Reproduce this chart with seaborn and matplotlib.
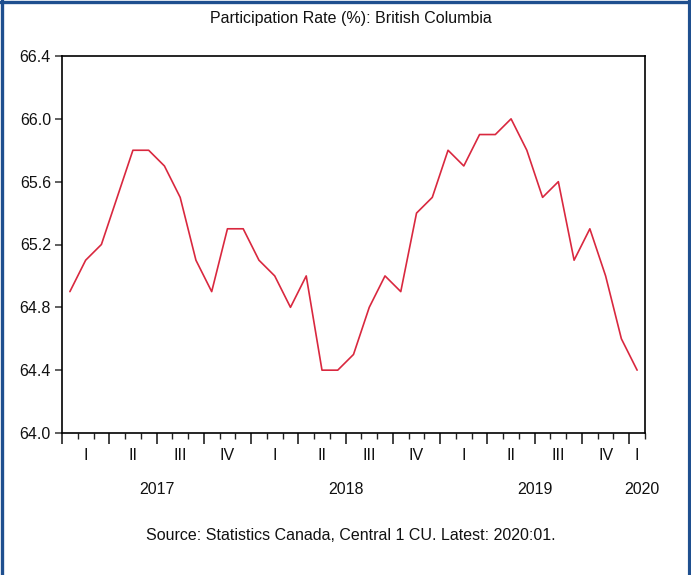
import matplotlib
matplotlib.use("Agg")
import matplotlib.pyplot as plt
import matplotlib.transforms as mtransforms
from matplotlib.lines import Line2D
import numpy as np
import pandas as pd
import seaborn as sns

# ── Data: BC participation rate, monthly Jan 2017 - Jan 2020 ─────────────────
months = pd.period_range("2017-01", "2020-01", freq="M").astype(str).tolist()
rate = [64.9, 65.1, 65.2, 65.5, 65.8, 65.8, 65.7, 65.5, 65.1, 64.9, 65.3, 65.3,
        65.1, 65.0, 64.8, 65.0, 64.4, 64.4, 64.5, 64.8, 65.0, 64.9, 65.4, 65.5,
        65.8, 65.7, 65.9, 65.9, 66.0, 65.8, 65.5, 65.6, 65.1, 65.3, 65.0, 64.6,
        64.4]
quarter_labels = ["I", "II", "III", "IV"] * 3 + ["I"]
year_labels = ["2017", "2018", "2019", "2020"]
y_ticks = [64.0, 64.4, 64.8, 65.2, 65.6, 66.0, 66.4]

df = pd.DataFrame({"month": months, "rate": rate})
df["idx"] = np.arange(len(df))

sns.set_theme(style="ticks")
plt.rcParams["font.family"] = ["Liberation Sans", "DejaVu Sans"]
FS = 11.5
W, H = 691, 575

fig = plt.figure(figsize=(W / 100, H / 100), dpi=100)
ax = fig.add_axes([62 / W, 1 - 433 / H, (645 - 62) / W, (433 - 56) / H])

sns.lineplot(data=df, x="idx", y="rate", ax=ax, color="#d9283f", linewidth=1.2)

n = len(df)
ax.set_xlim(-0.5, n - 0.5)
ax.set_ylim(y_ticks[0], y_ticks[-1])
ax.set_yticks(y_ticks)
ax.set_yticklabels([f"{v:.1f}" for v in y_ticks], fontsize=FS, color="#111111")
ax.set_xlabel("")
ax.set_ylabel("")

# month boundaries as minor ticks, quarter boundaries as major ticks
bounds = np.arange(n + 1) - 0.5
ax.set_xticks(bounds[::3])
ax.set_xticklabels([])
ax.set_xticks(bounds, minor=True)
ax.tick_params(axis="x", which="major", length=8, width=1.2, direction="out", color="#222222")
ax.tick_params(axis="x", which="minor", length=4, width=1.0, direction="out", color="#222222")
ax.tick_params(axis="y", which="major", length=5, width=1.2, direction="out", color="#444444", pad=3)

for side in ["left", "right", "top", "bottom"]:
    ax.spines[side].set_visible(True)
    ax.spines[side].set_color("black")
    ax.spines[side].set_linewidth(1.2)

# quarter and year labels under the axis
trans = mtransforms.blended_transform_factory(ax.transData, fig.transFigure)
q_centers = [min(3 * q + 1, n - 1) for q in range(len(quarter_labels))]
for xc, lab in zip(q_centers, quarter_labels):
    ax.text(xc, 1 - 456 / H, lab, transform=trans, ha="center", va="center",
            fontsize=FS, color="#111111")
y_centers = [5.5, 17.5, 29.5, n - 1 + 0.3]
for xc, lab in zip(y_centers, year_labels):
    ax.text(xc, 1 - 490 / H, lab, transform=trans, ha="center", va="center",
            fontsize=FS, color="#111111")

fig.text(351 / W, 1 - 18 / H, "Participation Rate (%): British Columbia",
         ha="center", va="center", fontsize=FS, color="#111111")
fig.text(351 / W, 1 - 535 / H, "Source: Statistics Canada, Central 1 CU. Latest: 2020:01.",
         ha="center", va="center", fontsize=FS, color="#111111")

# blue frame (left, top, right)
border = "#1f4f8f"
fig.add_artist(Line2D([1.5 / W, 1.5 / W], [0, 1], transform=fig.transFigure, color=border, linewidth=2.4))
fig.add_artist(Line2D([0, 1], [1 - 1.5 / H, 1 - 1.5 / H], transform=fig.transFigure, color=border, linewidth=2.4))
fig.add_artist(Line2D([1 - 1.5 / W, 1 - 1.5 / W], [0, 1], transform=fig.transFigure, color=border, linewidth=3))

fig.savefig("out.png", dpi=100)
